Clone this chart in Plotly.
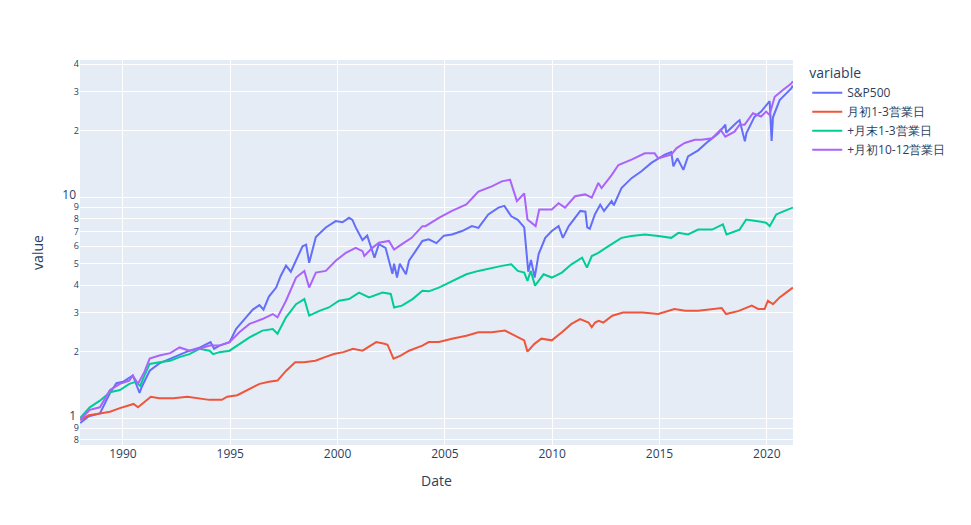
import math
import plotly.graph_objects as go

# ---- data ----
sp_dates = ["1988-01-04","1988-06-01","1988-12-05","1989-05-25","1989-09-12","1990-01-02","1990-06-18",
    "1990-10-11","1990-11-14","1991-02-01","1991-04-01","1991-09-12","1992-03-15","1992-08-07","1993-02-06",
    "1993-08-07","1994-01-31","1994-04-01","1994-07-01","1994-12-20","1995-04-12","1995-09-27","1996-01-20",
    "1996-05-12","1996-07-20","1996-10-20","1997-02-20","1997-05-08","1997-08-07","1997-10-28","1998-01-25",
    "1998-05-15","1998-07-15","1998-09-05","1998-12-28","1999-06-15","1999-12-01","2000-03-25","2000-07-15",
    "2000-09-10","2000-11-05","2001-02-28","2001-05-20","2001-09-20","2001-12-05","2002-03-28","2002-07-23",
    "2002-08-20","2002-10-09","2002-11-25","2003-03-10","2003-05-01","2003-08-20","2003-12-15","2004-04-01",
    "2004-08-10","2004-12-15","2005-04-30","2005-10-20","2006-04-05","2006-07-25","2007-01-10","2007-07-01",
    "2007-10-10","2008-02-05","2008-05-25","2008-09-12","2008-11-06","2008-11-20","2009-01-05","2009-03-09",
    "2009-05-15","2009-09-05","2009-12-25","2010-04-20","2010-07-02","2010-10-10","2011-04-25","2011-07-20",
    "2011-08-20","2011-10-03","2011-12-28","2012-03-28","2012-06-01","2012-10-08","2012-11-15","2013-03-25",
    "2013-09-12","2014-02-28","2014-08-15","2014-12-10","2015-04-01","2015-07-20","2015-08-25","2015-11-01",
    "2016-02-11","2016-05-01","2016-10-20","2017-04-10","2017-09-25","2018-01-26","2018-02-08","2018-08-07",
    "2018-09-25","2018-12-24","2019-01-20","2019-06-05","2019-09-26","2020-02-19","2020-03-23","2020-04-15",
    "2020-08-07","2020-10-30","2021-02-20","2021-03-20"]
sp_values = [0.95,1.02,1.05,1.30,1.44,1.46,1.56,
    1.30,1.38,1.53,1.64,1.77,1.86,1.92,2.02,
    2.09,2.21,2.06,2.13,2.21,2.54,2.86,3.10,
    3.25,3.10,3.55,3.90,4.40,4.90,4.60,5.20,
    6.00,6.10,5.05,6.60,7.30,7.80,7.70,8.07,
    7.90,7.30,6.40,6.70,5.33,6.13,5.90,4.50,
    5.00,4.33,5.00,4.48,5.16,5.70,6.34,6.45,
    6.20,6.70,6.78,7.03,7.40,7.26,8.36,8.98,
    9.14,8.20,7.90,7.30,5.16,4.60,5.20,4.33,
    5.53,6.55,7.03,7.40,6.55,7.40,8.67,8.60,
    7.30,7.20,8.36,9.25,8.67,9.60,9.20,11.0,
    12.2,13.1,14.3,15.0,15.6,16.0,13.8,15.0,
    13.3,15.3,16.3,17.9,19.4,21.3,19.6,21.8,
    22.3,17.9,19.5,23.1,24.4,27.2,18.0,23.0,
    27.5,29.0,31.1,32.0]

red_dates = ["1988-01-04","1988-06-01","1988-12-05","1989-05-25","1989-11-10","1990-04-20","1990-07-01",
    "1990-09-14","1991-01-01","1991-04-20","1991-09-12","1992-05-10","1993-01-01","1993-07-10","1994-01-10",
    "1994-08-10","1994-11-10","1995-05-01","1995-11-30","1996-05-15","1996-10-20","1997-03-15","1997-08-10",
    "1998-01-10","1998-06-10","1998-12-20","1999-06-01","1999-11-01","2000-04-10","2000-09-20","2001-03-01",
    "2001-10-20","2002-03-10","2002-05-01","2002-08-10","2002-12-10","2003-05-01","2003-12-15","2004-04-01",
    "2004-09-20","2005-05-01","2006-01-01","2006-07-25","2007-03-10","2007-10-20","2008-04-20","2008-09-12",
    "2008-11-06","2009-03-05","2009-07-01","2009-12-25","2010-06-15","2010-11-25","2011-04-20","2011-09-12",
    "2011-11-05","2012-01-01","2012-03-01","2012-05-20","2012-10-20","2013-04-20","2014-03-15","2014-12-10",
    "2015-09-12","2016-03-15","2016-10-20","2017-05-25","2017-11-25","2018-02-08","2018-09-12","2019-04-20",
    "2019-08-07","2019-11-25","2020-01-20","2020-04-15","2020-08-07","2020-11-25","2021-03-20"]
red_values = [0.98,1.03,1.05,1.07,1.11,1.14,1.16,
    1.12,1.18,1.25,1.23,1.23,1.25,1.23,1.21,
    1.21,1.25,1.27,1.36,1.43,1.46,1.48,1.64,
    1.79,1.79,1.82,1.89,1.95,1.99,2.06,2.02,
    2.21,2.17,2.15,1.86,1.92,2.02,2.13,2.21,
    2.21,2.29,2.36,2.45,2.45,2.49,2.36,2.25,
    2.00,2.17,2.29,2.25,2.45,2.67,2.81,2.71,
    2.58,2.71,2.76,2.71,2.91,3.01,3.01,2.96,
    3.12,3.06,3.06,3.12,3.15,2.96,3.06,3.23,
    3.12,3.12,3.40,3.28,3.52,3.70,3.90]

green_dates = ["1988-01-04","1988-06-15","1988-12-05","1989-05-25","1989-11-10","1990-04-20","1990-08-07",
    "1990-10-20","1991-01-01","1991-04-01","1991-09-12","1992-03-15","1992-08-20","1993-02-06","1993-07-25",
    "1994-01-15","1994-03-15","1994-07-01","1994-12-20","1995-06-05","1995-11-25","1996-07-01","1996-12-25",
    "1997-03-15","1997-08-07","1998-01-25","1998-06-15","1998-09-05","1999-02-25","1999-08-07","2000-01-25",
    "2000-07-15","2001-01-01","2001-06-20","2002-02-05","2002-06-25","2002-08-20","2003-01-01","2003-07-01",
    "2003-12-15","2004-04-01","2004-09-20","2005-05-01","2006-01-01","2006-07-25","2007-03-10","2007-08-28",
    "2008-02-05","2008-05-25","2008-09-12","2008-11-06","2009-01-01","2009-03-15","2009-08-07","2009-12-25",
    "2010-06-15","2010-11-25","2011-05-25","2011-08-15","2011-11-05","2012-02-25","2012-07-01","2012-10-08",
    "2013-03-25","2013-09-12","2014-04-25","2014-12-10","2015-07-20","2015-11-20","2016-05-01","2016-10-20",
    "2017-06-15","2017-12-15","2018-02-15","2018-09-25","2019-01-15","2019-07-01","2019-12-20","2020-02-20",
    "2020-06-10","2020-10-30","2021-03-20"]
green_values = [1.00,1.12,1.20,1.31,1.34,1.43,1.46,
    1.40,1.56,1.76,1.79,1.82,1.89,1.95,2.06,
    2.02,1.95,1.99,2.02,2.17,2.32,2.49,2.53,
    2.41,2.86,3.28,3.46,2.91,3.06,3.17,3.40,
    3.46,3.70,3.52,3.70,3.65,3.17,3.23,3.46,
    3.77,3.75,3.90,4.18,4.48,4.64,4.80,4.89,
    4.97,4.64,4.56,4.18,4.64,3.98,4.48,4.33,
    4.56,4.97,5.33,4.80,5.42,5.60,5.90,6.13,
    6.55,6.68,6.78,6.68,6.55,6.90,6.78,7.14,
    7.14,7.54,6.78,7.14,7.93,7.80,7.67,7.40,
    8.36,8.67,8.98]

purple_dates = ["1988-01-04","1988-06-15","1988-12-05","1989-05-25","1989-11-10","1990-04-20","1990-06-18",
    "1990-09-14","1991-01-01","1991-04-01","1991-09-12","1992-03-15","1992-08-20","1993-02-06","1993-07-25",
    "1994-01-15","1994-07-01","1994-12-20","1995-06-05","1995-11-25","1996-07-01","1996-12-25","1997-03-15",
    "1997-08-07","1998-01-25","1998-06-15","1998-09-05","1998-12-28","1999-06-15","1999-12-01","2000-05-20",
    "2000-11-05","2001-03-01","2001-04-01","2001-08-15","2001-12-05","2002-05-25","2002-08-20","2003-01-01",
    "2003-06-15","2003-12-15","2004-02-05","2004-09-20","2005-05-01","2006-01-01","2006-07-25","2007-03-10",
    "2007-08-28","2008-01-15","2008-05-10","2008-09-12","2008-11-06","2009-03-25","2009-05-25","2009-12-25",
    "2010-04-20","2010-08-07","2011-01-25","2011-07-15","2011-11-05","2012-02-25","2012-04-20","2012-10-08",
    "2013-02-01","2013-09-12","2014-04-25","2014-10-10","2014-12-10","2015-07-20","2015-10-20","2016-03-05",
    "2016-08-25","2016-12-20","2017-06-15","2017-11-05","2018-01-25","2018-07-01","2018-09-25","2018-12-20",
    "2019-05-10","2019-09-26","2019-12-20","2020-02-15","2020-05-15","2020-10-01","2021-02-20","2021-03-20"]
purple_values = [0.98,1.09,1.12,1.34,1.43,1.48,1.56,
    1.43,1.62,1.86,1.92,1.97,2.09,2.02,2.06,
    2.13,2.13,2.21,2.45,2.67,2.81,2.96,2.86,
    3.40,4.33,4.64,3.90,4.56,4.64,5.16,5.60,
    5.90,5.70,5.42,5.90,6.23,6.34,5.80,6.13,
    6.55,7.40,7.40,8.07,8.67,9.28,10.6,11.2,
    11.8,12.0,9.60,10.4,7.93,7.40,8.80,8.80,
    9.40,8.98,10.1,10.3,9.95,11.6,11.0,12.6,
    14.0,14.8,15.8,15.8,15.0,15.6,16.7,17.6,
    18.2,18.2,18.5,20.2,18.8,19.8,21.3,21.3,
    24.0,23.2,24.4,23.6,28.5,30.6,32.7,33.5]

series_names = ["S&P500", "月初1-3営業日", "+月末1-3営業日", "+月初10-12営業日"]
series_dates = [sp_dates, red_dates, green_dates, purple_dates]
series_values = [sp_values, red_values, green_values, purple_values]
colors = ["#636efa", "#EF553B", "#00cc96", "#ab63fa"]

fig = go.Figure()
for name, xs, ys, c in zip(series_names, series_dates, series_values, colors):
    fig.add_trace(go.Scatter(x=xs, y=ys, mode="lines", name=name,
                             line=dict(color=c, width=2), legendgroup=name))

# page body has an 8px default margin, so the figure is sized/margined to land
# its plot area where the reference has it
fig.update_layout(
    template="plotly",
    width=955, height=509,
    margin=dict(l=72, t=52, b=72),
    legend=dict(title=dict(text="variable"), tracegroupgap=0),
    xaxis=dict(title=dict(text="Date"), range=["1988-01-01", "2021-03-22"]),
    yaxis=dict(title=dict(text="value"), type="log",
               range=[math.log10(0.756), math.log10(41.8)]),
)
fig.write_html("out.html")
